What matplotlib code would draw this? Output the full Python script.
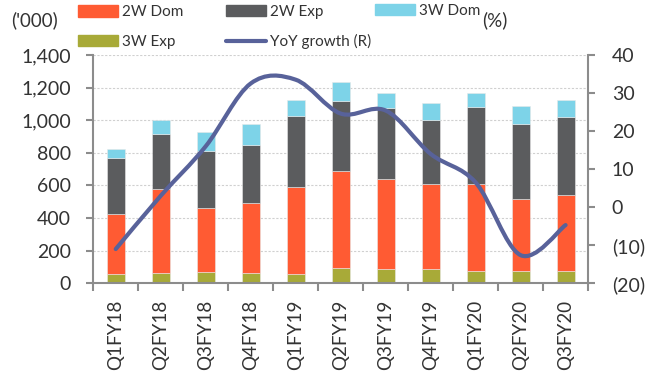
import numpy as np
import matplotlib
matplotlib.use("Agg")
import matplotlib.pyplot as plt
from matplotlib.path import Path
from matplotlib.patches import PathPatch, Patch
from matplotlib.lines import Line2D

# data
quarters = ["Q1FY18", "Q2FY18", "Q3FY18", "Q4FY18", "Q1FY19", "Q2FY19",
            "Q3FY19", "Q4FY19", "Q1FY20", "Q2FY20", "Q3FY20"]
w3_exp = [55, 63, 69, 63, 55, 96, 88, 86, 76, 78, 74]
w2_dom = [367, 514, 391, 428, 534, 592, 551, 520, 530, 438, 466]
w2_exp = [347, 336, 352, 358, 436, 432, 436, 393, 473, 462, 481]
w3_dom = [56, 86, 113, 125, 97, 112, 90, 104, 86, 109, 101]
yoy = [-11, 3, 16, 32.5, 33.5, 24.6, 25.4, 14, 6.5, -12.6, -4.7]

left_ticks = [0, 200, 400, 600, 800, 1000, 1200, 1400]
right_ticks = [-20, -10, 0, 10, 20, 30, 40]

c_2wdom = "#FF5B33"
c_2wexp = "#5B5C5E"
c_3wdom = "#7DD3E8"
c_3wexp = "#A8AA38"
c_line = "#58629A"
c_text = "#333333"
c_spine = "#8C8C8C"

plt.rcParams['font.family'] = ['Lato', 'DejaVu Sans']

fig = plt.figure(figsize=(6.66, 3.79), dpi=100)
ax = fig.add_axes([0.140, 0.2525, 0.743, 0.6025])

x = np.arange(len(quarters))
bw = 0.4
bottom = np.zeros(len(x))
for vals, col in [(w3_exp, c_3wexp), (w2_dom, c_2wdom), (w2_exp, c_2wexp), (w3_dom, c_3wdom)]:
    ax.bar(x, vals, bw, bottom=bottom, color=col, edgecolor="#e8e8e8", linewidth=0.4, zorder=2)
    bottom += np.array(vals)

ax.set_xlim(-0.5, len(x) - 0.5)
ax.set_ylim(0, 1400)
ax.set_yticks(left_ticks)
ax.set_yticklabels([f"{v:,}" for v in left_ticks])
ax.yaxis.grid(True, color="#d0d0d0", linestyle=(0, (2, 1.5)), linewidth=0.8)
ax.set_axisbelow(True)

ax.set_xticks(x)
ax.set_xticklabels(quarters, rotation=90)
ax.set_xticks(np.arange(-0.5, len(x), 1), minor=True)
ax.tick_params(axis="x", which="major", length=0, pad=12, labelsize=13.5, colors=c_text)
ax.tick_params(axis="x", which="minor", length=6, width=1.5, color=c_spine, direction="out")
ax.tick_params(axis="y", length=5, width=1.5, color=c_spine, pad=11, labelsize=14, labelcolor=c_text)

for s in ["top", "right"]:
    ax.spines[s].set_visible(False)
for s in ["left", "bottom"]:
    ax.spines[s].set_color(c_spine)
    ax.spines[s].set_linewidth(1.5)

# right axis with the smoothed growth line
ax2 = ax.twinx()
ax2.set_ylim(-20, 40)
ax2.set_yticks(right_ticks)
ax2.set_yticklabels([f"({-v})" if v < 0 else str(v) for v in right_ticks])
ax2.tick_params(axis="y", length=5, width=1.5, color=c_spine, pad=12, labelsize=14, labelcolor=c_text)
for s in ["top", "left", "bottom"]:
    ax2.spines[s].set_visible(False)
ax2.spines["right"].set_color(c_spine)
ax2.spines["right"].set_linewidth(1.5)

# bezier through the points (excel style smoothing)
pts = np.column_stack([x, yoy]).astype(float)
n = len(pts)
verts = [pts[0]]
codes = [Path.MOVETO]
for i in range(n - 1):
    p0 = pts[i - 1] if i > 0 else pts[i]
    p1 = pts[i]
    p2 = pts[i + 1]
    p3 = pts[i + 2] if i + 2 < n else pts[i + 1]
    verts += [p1 + (p2 - p0) / 6, p2 - (p3 - p1) / 6, p2]
    codes += [Path.CURVE4] * 3
ax2.add_patch(PathPatch(Path(verts, codes), fill=False, edgecolor=c_line,
                        linewidth=3, capstyle="round", joinstyle="round", zorder=3))

# unit labels
fig.text(35 / 666, 1 - 20 / 379, "('000)", ha="center", va="center", fontsize=13.5, color=c_text)
fig.text(495 / 666, 1 - 20 / 379, "(%)", ha="center", va="center", fontsize=13.5, color=c_text)

# legend, one per column
leg_kw = dict(frameon=False, fontsize=11, handlelength=2.6, handleheight=0.8,
              handletextpad=0.3, labelspacing=1.0, borderpad=0, borderaxespad=0,
              loc="center left", labelcolor=c_text)
fig.legend([Patch(color=c_2wdom), Patch(color=c_3wexp)], ["2W Dom", "3W Exp"],
           bbox_to_anchor=(78 / 666, 1 - 27 / 379), **leg_kw)
fig.legend([Patch(color=c_2wexp), Line2D([], [], color=c_line, lw=3, solid_capstyle="round")],
           ["2W Exp", "YoY growth (R)"], bbox_to_anchor=(226 / 666, 1 - 27 / 379), **leg_kw)
fig.legend([Patch(color=c_3wdom)], ["3W Dom"], bbox_to_anchor=(375 / 666, 1 - 10.7 / 379), **leg_kw)

fig.savefig("out.png", dpi=100)
